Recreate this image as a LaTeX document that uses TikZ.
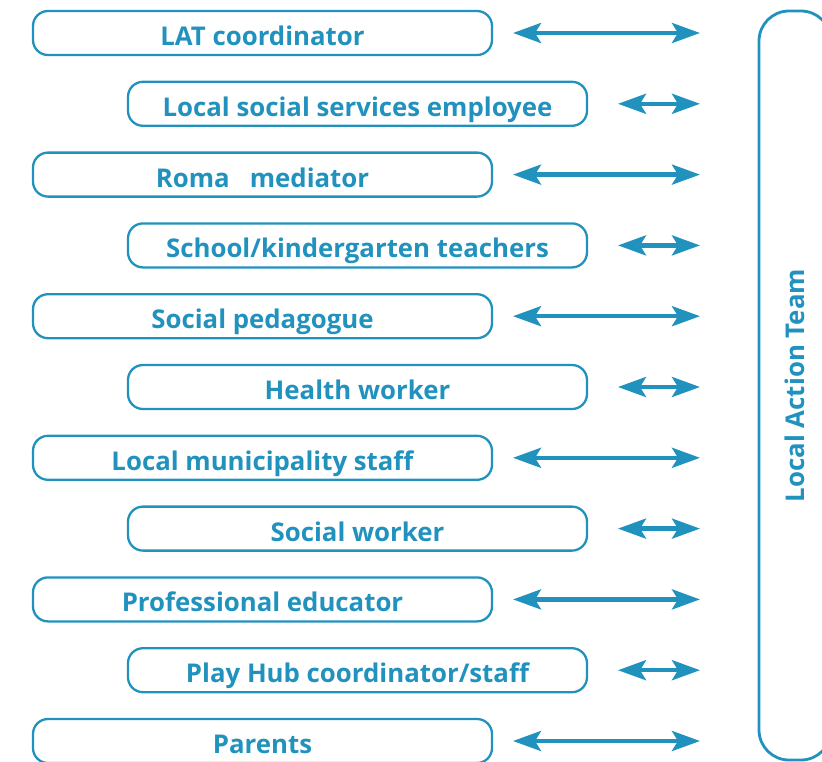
\documentclass[tikz,border=0pt]{standalone}
\usepackage{fontspec}
\setmainfont{Open Sans}
\usetikzlibrary{arrows.meta, positioning}
\definecolor{latblue}{RGB}{33,146,190}
\tikzstyle{member} = [rectangle, rounded corners=15pt, minimum width=459pt, minimum height=44pt, outer sep=0pt, text height=25pt, text depth=0pt, text centered, draw=latblue, line width=2.3pt, text=latblue, font=\fontsize{25.8}{30}\selectfont\bfseries]
\tikzstyle{team} = [rectangle, rounded corners=30pt, minimum width=749pt, minimum height=72pt, outer sep=0pt, text height=19pt, text depth=0pt, draw=latblue, line width=2.8pt, text=latblue, font=\fontsize{25.8}{30}\selectfont\bfseries]
\tikzstyle{arrow} = [latblue, line width=4.3pt, <->, >={Stealth[length=28pt, width=20pt, inset=6pt]}]

\begin{document}
\begin{tikzpicture}[node distance=26.8pt, x=1pt, y=1pt]
\useasboundingbox (0,0) rectangle (822,-761);

% Members
\node (lat) [member] at (262.5,-33) {LAT coordinator};
\node (lss) [member, below=of lat, xshift=95pt] {Local social services employee};
\node (roma) [member, below=of lss, xshift=-95pt] {Roma\ \ \ mediator};
\node (teach) [member, below=of roma, xshift=95pt] {School/kindergarten teachers};
\node (ped) [member, below=of teach, xshift=-95pt] {Social pedagogue};
\node (health) [member, below=of ped, xshift=95pt] {Health worker};
\node (muni) [member, below=of health, xshift=-95pt] {Local municipality staff};
\node (sw) [member, below=of muni, xshift=95pt] {Social worker};
\node (edu) [member, below=of sw, xshift=-95pt] {Professional educator};
\node (hub) [member, below=of edu, xshift=95pt] {Play Hub coordinator/staff};
\node (par) [member, below=of hub, xshift=-95pt] {Parents};

% Team
\node (lat-team) [team, rotate=90] at (795,-385.5) {Local Action Team};

% Arrows
\foreach \m in {lat, roma, ped, muni, edu, par}
  \draw [arrow, shorten <=21pt, shorten >=59pt] (\m.east) -- (\m.east -| lat-team.north);
\foreach \m in {lss, teach, health, sw, hub}
  \draw [arrow, shorten <=31pt, shorten >=59pt] (\m.east) -- (\m.east -| lat-team.north);

\end{tikzpicture}
\end{document}
